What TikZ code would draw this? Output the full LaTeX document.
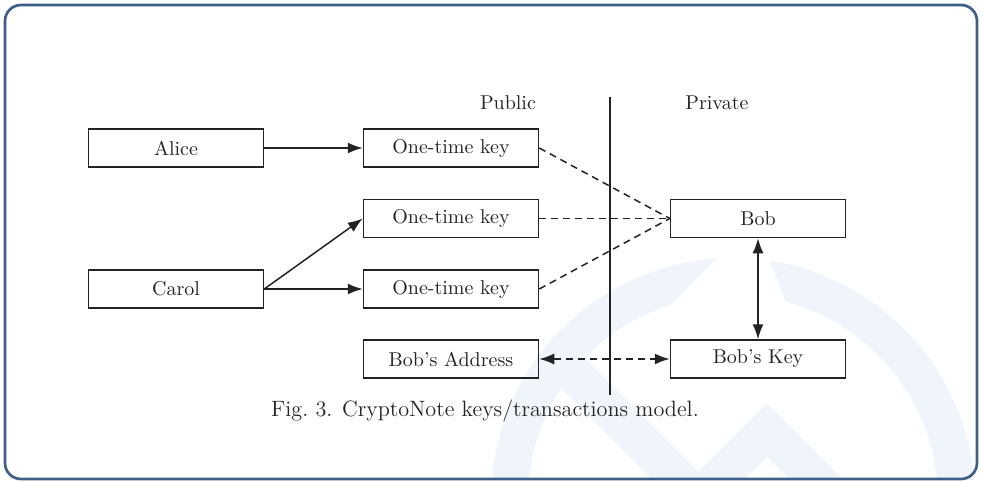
\documentclass[tikz,border=0pt]{standalone}
\usetikzlibrary{arrows.meta}
\definecolor{framec}{RGB}{63,94,136}
\definecolor{wmark}{RGB}{240,245,251}
\definecolor{inkc}{RGB}{35,35,35}
\begin{document}
\begin{tikzpicture}[x=0.5pt,y=-0.5pt,
  box/.style={draw=inkc, line width=0.75pt, minimum width=87.5pt, minimum height=19pt, inner sep=0pt, text=inkc, font=\normalsize},
  lbl/.style={text=inkc, inner sep=0pt},
  conn/.style={draw=inkc, line width=0.75pt},
  arr/.style={conn, -{Latex[length=7.5pt,width=5.5pt]}},
  biarr/.style={conn, {Latex[length=7.5pt,width=5.5pt]}-{Latex[length=7.5pt,width=5.5pt]}},
  dsh/.style={dash pattern=on 3.5pt off 2.5pt}]
\useasboundingbox (0,0) rectangle (983,481);
% watermark
\begin{scope}
  \clip (5,5) rectangle (977,479);
  \begin{scope}
    \clip (400,530) -- (400,150) -- (823,150) -- (673,303) -- (620,530) -- cycle;
    \fill[wmark, even odd rule] (733,500) circle[radius=242] (733,500) circle[radius=205];
  \end{scope}
  \begin{scope}
    \clip (724,150) -- (770,261) -- (786,303) -- (840,530) -- (1000,530) -- (1000,150) -- cycle;
    \fill[wmark, even odd rule] (733,500) circle[radius=242] (733,500) circle[radius=205];
  \end{scope}
  \begin{scope}
    \clip (733,500) circle[radius=242];
    \fill[wmark] (453,280) -- (507,280) -- (760,533) -- (706,533) -- cycle;
  \end{scope}
  \fill[wmark] (767,403) -- (897,533) -- (843,533) -- (767,457) -- (691,533) -- (637,533) -- cycle;
\end{scope}
% frame
\draw[framec, line width=1.35pt, rounded corners=8pt] (5,5) rectangle (977,479);
% nodes
\node[box] (alice) at (176,148) {Alice};
\node[box] (otk1) at (451,148) {One-time key};
\node[box] (otk2) at (451,218.5) {One-time key};
\node[box] (otk3) at (451,289) {One-time key};
\node[box] (carol) at (176,289) {Carol};
\node[box] (addr) at (451,359) {Bob's Address};
\node[box] (bob) at (758,218.5) {Bob};
\node[box] (bobkey) at (758,359) {Bob's Key};
\node[lbl] (public) at (508,103) {Public};
\node[lbl] (private) at (717,103) {Private};
\coordinate (divtop) at (610,97);
\coordinate (divbot) at (610,395);
\draw[conn] (divtop) -- (divbot);
\node[lbl, font=\fontsize{11.1}{13}\selectfont] (caption) at (485,411) {Fig.~3. CryptoNote keys/transactions model.};
% connectors
\draw[arr] (alice) -- (otk1);
\draw[arr] (carol.east) -- (otk2.west);
\draw[arr] (carol.east) -- (otk3.west);
\draw[conn, dsh] (otk1.east) -- (bob.west);
\draw[conn, dsh] (otk2.east) -- (bob.west);
\draw[conn, dsh] (otk3.east) -- (bob.west);
\draw[biarr] (bob) -- (bobkey);
\draw[biarr, dsh] (addr) -- (bobkey);
\end{tikzpicture}
\end{document}
